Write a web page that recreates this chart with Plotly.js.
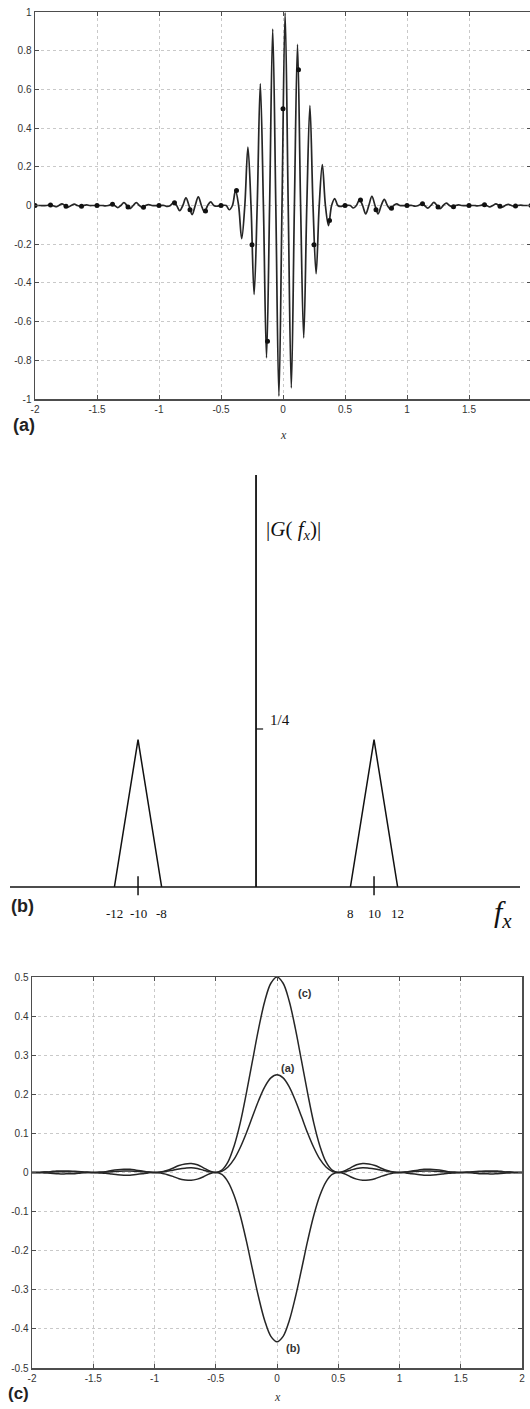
<!DOCTYPE html>
<html>
<head>
<meta charset="utf-8">
<script src="https://cdn.plot.ly/plotly-3.0.1.min.js"></script>
<style>
  html, body { margin: 0; padding: 0; background: #fff; overflow: hidden; }
  #fig { width: 533px; height: 1409px; }
</style>
</head>
<body>
<div id="fig"></div>
<script>
// ---------- (a) band-pass signal and its samples ----------
const waveX = [
  -2.008, -1.983, -1.958, -1.933, -1.908, -1.883, -1.858, -1.833, -1.808, -1.783,
  -1.758, -1.733, -1.708, -1.683, -1.658, -1.633, -1.608, -1.583, -1.558, -1.533,
  -1.508, -1.483, -1.458, -1.433, -1.408, -1.383, -1.358, -1.333, -1.308, -1.283,
  -1.258, -1.233, -1.208, -1.183, -1.158, -1.133, -1.108, -1.083, -1.058, -1.033,
  -1.008, -0.983, -0.958, -0.933, -0.908, -0.883, -0.858, -0.833, -0.808, -0.783,
  -0.758, -0.733, -0.708, -0.683, -0.658, -0.633, -0.608, -0.583, -0.558, -0.533,
  -0.508, -0.483, -0.458, -0.433, -0.408, -0.383, -0.358, -0.333, -0.308, -0.283,
  -0.258, -0.233, -0.208, -0.183, -0.158, -0.133, -0.108, -0.083, -0.058, -0.033,
  -0.008, 0.017, 0.042, 0.067, 0.092, 0.117, 0.142, 0.167, 0.192, 0.217,
  0.242, 0.267, 0.292, 0.317, 0.342, 0.367, 0.392, 0.417, 0.442, 0.467,
  0.492, 0.517, 0.542, 0.567, 0.592, 0.617, 0.642, 0.667, 0.692, 0.717,
  0.742, 0.767, 0.792, 0.817, 0.842, 0.867, 0.892, 0.917, 0.942, 0.967,
  0.992, 1.017, 1.042, 1.067, 1.092, 1.117, 1.142, 1.167, 1.192, 1.217,
  1.242, 1.267, 1.292, 1.317, 1.342, 1.367, 1.392, 1.417, 1.442, 1.467,
  1.492, 1.517, 1.542, 1.567, 1.592, 1.617, 1.642, 1.667, 1.692, 1.717,
  1.742, 1.767, 1.792, 1.817, 1.842, 1.867, 1.892, 1.917, 1.942, 1.967,
  1.992, 2.017
];
const waveY = [
  0, 0, 0, -0.001, 0, 0.003, 0, -0.006, 0, 0.008,
  0, -0.008, 0, 0.007, 0, -0.005, 0, 0.003, 0, 0,
  0, 0, 0, -0.002, 0, 0.006, 0, -0.011, 0, 0.015,
  0, -0.016, 0, 0.015, 0, -0.011, 0, 0.005, 0, -0.001,
  0, 0, 0, -0.005, 0, 0.015, 0, -0.027, 0, 0.039,
  0, -0.047, 0, 0.045, 0, -0.035, 0, 0.019, 0, -0.004,
  0, 0.001, 0, -0.022, 0, 0.077, 0, -0.171, 0, 0.302,
  0, -0.460, 0, 0.629, 0, -0.787, 0, 0.912, 0, -0.985,
  0, 0.996, 0, -0.943, 0, 0.833, 0, -0.684, 0, 0.516,
  0, -0.352, 0, 0.211, 0, -0.104, 0, 0.036, 0, -0.005,
  0, 0.001, 0, -0.013, 0, 0.030, 0, -0.043, 0, 0.047,
  0, -0.043, 0, 0.032, 0, -0.019, 0, 0.008, 0, -0.001,
  0, 0, 0, -0.004, 0, 0.009, 0, -0.014, 0, 0.016,
  0, -0.016, 0, 0.012, 0, -0.007, 0, 0.003, 0, -0.001,
  0, 0, 0, -0.002, 0, 0.004, 0, -0.007, 0, 0.008,
  0, -0.008, 0, 0.006, 0, -0.004, 0, 0.002, 0, 0,
  0, 0
];
const sampleX = [
  -2, -1.875, -1.75, -1.625, -1.5, -1.375, -1.25, -1.125, -1, -0.875, -0.75,
  -0.625, -0.5, -0.375, -0.25, -0.125, 0, 0.125, 0.25, 0.375, 0.5, 0.625,
  0.75, 0.875, 1, 1.125, 1.25, 1.375, 1.5, 1.625, 1.75, 1.875, 2
];
const sampleY = [
  0, 0.003, -0.004, -0.004, 0, 0.006, -0.008, -0.009, 0, 0.014, -0.022,
  -0.028, 0, 0.078, -0.203, -0.702, 0.5, 0.702, -0.203, -0.078, 0, 0.028,
  -0.022, -0.014, 0, 0.009, -0.008, -0.006, 0, 0.004, -0.004, -0.003, 0
];
const xTickVals = [-2, -1.5, -1, -0.5, 0, 0.5, 1, 1.5, 2];
const xTickText = ['-2', '-1.5', '-1', '-0.5', '0', '0.5', '1', '1.5', '2'];
const yTickValsA = [-1, -0.8, -0.6, -0.4, -0.2, 0, 0.2, 0.4, 0.6, 0.8, 1];
const yTickTextA = ['-1', '-0.8', '-0.6', '-0.4', '-0.2', '0', '0.2', '0.4', '0.6', '0.8', '1'];

// ---------- (b) magnitude spectrum ----------
const lobeLeftF = [-12, -10, -8];
const lobeLeftG = [0, 0.233, 0];
const lobeRightF = [8, 10, 12];
const lobeRightG = [0, 0.233, 0];
const freqTickVals = [-12, -10, -8, 8, 10, 12];
const freqTickText = ['-12', '-10', '-8', '8', '10', '12'];
const freqMarks = [-10, 10];
const magTickVal = 0.25;
const magTickText = '1/4';

// ---------- (c) baseband components ----------
const cX = [
  -2, -1.95, -1.9, -1.85, -1.8, -1.75, -1.7, -1.65, -1.6, -1.55,
  -1.5, -1.45, -1.4, -1.35, -1.3, -1.25, -1.2, -1.15, -1.1, -1.05,
  -1, -0.95, -0.9, -0.85, -0.8, -0.75, -0.7, -0.65, -0.6, -0.55,
  -0.5, -0.45, -0.4, -0.35, -0.3, -0.25, -0.2, -0.15, -0.1, -0.05,
  0,
  0.05, 0.1, 0.15, 0.2, 0.25, 0.3, 0.35, 0.4, 0.45, 0.5,
  0.55, 0.6, 0.65, 0.7, 0.75, 0.8, 0.85, 0.9, 0.95, 1,
  1.05, 1.1, 1.15, 1.2, 1.25, 1.3, 1.35, 1.4, 1.45, 1.5,
  1.55, 1.6, 1.65, 1.7, 1.75, 1.8, 1.85, 1.9, 1.95, 2
];
const curveA = [
  0, 0, 0.001, 0.001, 0.002, 0.002, 0.002, 0.002, 0.001, 0,
  0, 0, 0.001, 0.002, 0.003, 0.004, 0.004, 0.003, 0.002, 0.001,
  0, 0.001, 0.003, 0.006, 0.009, 0.011, 0.012, 0.010, 0.006, 0.002,
  0, 0.003, 0.014, 0.034, 0.064, 0.101, 0.143, 0.184, 0.219, 0.242,
  0.25,
  0.242, 0.219, 0.184, 0.143, 0.101, 0.064, 0.034, 0.014, 0.003, 0,
  0.002, 0.006, 0.010, 0.012, 0.011, 0.009, 0.006, 0.003, 0.001, 0,
  0.001, 0.002, 0.003, 0.004, 0.004, 0.003, 0.002, 0.001, 0, 0,
  0, 0.001, 0.002, 0.002, 0.002, 0.002, 0.001, 0.001, 0, 0
];
const curveB = [
  0, 0, -0.001, -0.002, -0.003, -0.004, -0.003, -0.003, -0.001, 0,
  0, -0.001, -0.002, -0.004, -0.006, -0.007, -0.007, -0.005, -0.003, -0.001,
  0, -0.001, -0.005, -0.010, -0.016, -0.019, -0.020, -0.017, -0.011, -0.003,
  0, -0.005, -0.024, -0.059, -0.110, -0.175, -0.248, -0.319, -0.379, -0.419,
  -0.433,
  -0.419, -0.379, -0.319, -0.248, -0.175, -0.110, -0.059, -0.024, -0.005, 0,
  -0.003, -0.011, -0.017, -0.020, -0.019, -0.016, -0.010, -0.005, -0.001, 0,
  -0.001, -0.003, -0.005, -0.007, -0.007, -0.006, -0.004, -0.002, -0.001, 0,
  0, -0.001, -0.003, -0.003, -0.004, -0.003, -0.002, -0.001, 0, 0
];
const curveC = [
  0, 0, 0.001, 0.002, 0.004, 0.004, 0.004, 0.003, 0.002, 0.001,
  0, 0.001, 0.002, 0.005, 0.007, 0.008, 0.008, 0.006, 0.004, 0.001,
  0, 0.001, 0.005, 0.011, 0.018, 0.022, 0.023, 0.020, 0.012, 0.004,
  0, 0.006, 0.027, 0.068, 0.127, 0.203, 0.286, 0.368, 0.438, 0.484,
  0.5,
  0.484, 0.438, 0.368, 0.286, 0.203, 0.127, 0.068, 0.027, 0.006, 0,
  0.004, 0.012, 0.020, 0.023, 0.022, 0.018, 0.011, 0.005, 0.001, 0,
  0.001, 0.004, 0.006, 0.008, 0.008, 0.007, 0.005, 0.002, 0.001, 0,
  0.001, 0.002, 0.003, 0.004, 0.004, 0.004, 0.002, 0.001, 0, 0
];
const yTickValsC = [-0.5, -0.4, -0.3, -0.2, -0.1, 0, 0.1, 0.2, 0.3, 0.4, 0.5];
const yTickTextC = ['-0.5', '-0.4', '-0.3', '-0.2', '-0.1', '0', '0.1', '0.2', '0.3', '0.4', '0.5'];
const curveLabels = ['(a)', '(b)', '(c)'];

// ---------- page geometry (pixel -> paper fraction) ----------
const W = 533, H = 1409;
const px = v => v / W;
const py = v => 1 - v / H;

const SANS = 'Liberation Sans, Arial, Helvetica, sans-serif';
const SERIF = 'Liberation Serif, Times New Roman, serif';
const INK = '#262626';

const boxAxis = {
  showline: true, linecolor: '#4d4d4d', linewidth: 1.5, mirror: 'ticks',
  ticks: 'inside', ticklen: 4, tickwidth: 1, tickcolor: '#4d4d4d',
  showgrid: true, gridcolor: '#c9c9c9', griddash: 'dot', gridwidth: 1,
  zeroline: false, fixedrange: true,
  tickfont: { family: SANS, size: 10, color: '#333' }
};

const traces = [
  { x: waveX, y: waveY, xaxis: 'x', yaxis: 'y', mode: 'lines',
    line: { color: INK, width: 1.7, shape: 'spline', smoothing: 1 }, hoverinfo: 'skip' },
  { x: sampleX, y: sampleY, xaxis: 'x', yaxis: 'y', mode: 'markers',
    marker: { color: '#111', size: 5 }, hoverinfo: 'skip' },

  { x: lobeLeftF, y: lobeLeftG, xaxis: 'x2', yaxis: 'y2', mode: 'lines',
    line: { color: '#111', width: 1.5 }, hoverinfo: 'skip' },
  { x: lobeRightF, y: lobeRightG, xaxis: 'x2', yaxis: 'y2', mode: 'lines',
    line: { color: '#111', width: 1.5 }, hoverinfo: 'skip' },

  { x: cX, y: curveC, xaxis: 'x3', yaxis: 'y3', mode: 'lines',
    line: { color: INK, width: 1.5, shape: 'spline', smoothing: 1 }, hoverinfo: 'skip' },
  { x: cX, y: curveA, xaxis: 'x3', yaxis: 'y3', mode: 'lines',
    line: { color: INK, width: 1.5, shape: 'spline', smoothing: 1 }, hoverinfo: 'skip' },
  { x: cX, y: curveB, xaxis: 'x3', yaxis: 'y3', mode: 'lines',
    line: { color: INK, width: 1.5, shape: 'spline', smoothing: 1 }, hoverinfo: 'skip' }
];

// spectrum axes, drawn as plain lines in data coordinates
const shapes = [
  { type: 'line', xref: 'x2 domain', yref: 'y2', x0: 0, x1: 1, y0: 0, y1: 0,
    line: { color: '#111', width: 1.5 } },
  { type: 'line', xref: 'x2', yref: 'y2', x0: 0, x1: 0, y0: 0, y1: 0.652,
    line: { color: '#111', width: 1.8 } },
  { type: 'line', xref: 'x2', yref: 'y2', x0: 0, x1: 0.6, y0: magTickVal, y1: magTickVal,
    line: { color: '#111', width: 1.2 } }
];
freqMarks.forEach(f => shapes.push({
  type: 'line', xref: 'x2', yref: 'y2', x0: f, x1: f, y0: -0.013, y1: 0.017,
  line: { color: '#111', width: 1.5 }
}));

const note = (o) => Object.assign({ showarrow: false, xanchor: 'center', yanchor: 'middle' }, o);

const annotations = [
  // panel letters and x-axis titles
  note({ text: '<b>(a)</b>', xref: 'paper', yref: 'paper', x: px(24), y: py(425),
    font: { family: SANS, size: 18, color: '#222' } }),
  note({ text: '<i>x</i>', xref: 'paper', yref: 'paper', x: px(283), y: py(435),
    font: { family: SERIF, size: 12, color: '#333' } }),
  note({ text: '<b>(b)</b>', xref: 'paper', yref: 'paper', x: px(22), y: py(906),
    font: { family: SANS, size: 18, color: '#222' } }),
  note({ text: '<b>(c)</b>', xref: 'paper', yref: 'paper', x: px(18), y: py(1393),
    font: { family: SANS, size: 17, color: '#222' } }),
  note({ text: '<i>x</i>', xref: 'paper', yref: 'paper', x: px(277), y: py(1397),
    font: { family: SERIF, size: 12, color: '#333' } }),

  // spectrum labels
  note({ text: '|<i>G</i>( <i>f</i><sub><i>x</i></sub>)|', xref: 'x2', yref: 'y2', x: 0.7, y: 0.565,
    xanchor: 'left', font: { family: SERIF, size: 21, color: '#111' } }),
  note({ text: magTickText, xref: 'x2', yref: 'y2', x: 1.0, y: 0.264,
    xanchor: 'left', font: { family: SERIF, size: 15, color: '#111' } }),
  note({ text: '<i>f</i><sub><i>x</i></sub>', xref: 'paper', yref: 'paper', x: px(503), y: py(914),
    font: { family: SERIF, size: 30, color: '#111' } }),

  // curve labels in (c)
  note({ text: '<b>' + curveLabels[2] + '</b>', xref: 'x3', yref: 'y3', x: 0.23, y: 0.458,
    font: { family: SANS, size: 11, color: '#333' } }),
  note({ text: '<b>' + curveLabels[0] + '</b>', xref: 'x3', yref: 'y3', x: 0.09, y: 0.268,
    font: { family: SANS, size: 11, color: '#333' } }),
  note({ text: '<b>' + curveLabels[1] + '</b>', xref: 'x3', yref: 'y3', x: 0.13, y: -0.45,
    font: { family: SANS, size: 11, color: '#333' } })
];
freqTickVals.forEach((f, i) => annotations.push(note({
  text: freqTickText[i], xref: 'x2', yref: 'paper', x: f, y: py(913),
  font: { family: SERIF, size: 13, color: '#111' }
})));

const layout = {
  width: W, height: H,
  margin: { l: 0, r: 0, t: 0, b: 0 },
  paper_bgcolor: '#fff', plot_bgcolor: '#fff',
  showlegend: false,
  xaxis: Object.assign({}, boxAxis, { domain: [px(35), px(531)], range: [-2, 2], anchor: 'y',
    tickmode: 'array', tickvals: xTickVals, ticktext: xTickText }),
  yaxis: Object.assign({}, boxAxis, { domain: [py(399), py(12)], range: [-1, 1], anchor: 'x',
    tickmode: 'array', tickvals: yTickValsA, ticktext: yTickTextA }),
  xaxis2: { domain: [px(10), px(520)], range: [-20.85, 22.37], anchor: 'y2', visible: false, fixedrange: true },
  yaxis2: { domain: [py(900), py(470)], range: [-0.0206, 0.6598], anchor: 'x2', visible: false, fixedrange: true },
  xaxis3: Object.assign({}, boxAxis, { domain: [px(32), px(522)], range: [-2, 2], anchor: 'y3',
    tickmode: 'array', tickvals: xTickVals, ticktext: xTickText }),
  yaxis3: Object.assign({}, boxAxis, { domain: [py(1368), py(977)], range: [-0.5, 0.5], anchor: 'x3',
    tickmode: 'array', tickvals: yTickValsC, ticktext: yTickTextC }),
  shapes: shapes,
  annotations: annotations
};

Plotly.newPlot('fig', traces, layout, { staticPlot: true, displayModeBar: false });
</script>
</body>
</html>
